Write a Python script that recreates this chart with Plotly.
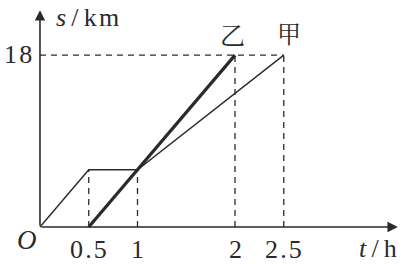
import plotly.graph_objects as go

# Data
jia_t = [0, 0.5, 1, 2.5]
jia_s = [0, 6, 6, 18]
yi_t = [0.5, 2]
yi_s = [0, 18]
x_ticks = [0.5, 1, 2, 2.5]
x_tick_labels = ["0\u200a.\u200a5", "1", "2", "2\u200a.\u200a5"]
y_ticks = [18]
y_tick_labels = ["1\u200a8"]
guide_lines = [  # (t0, s0, t1, s1)
    (0.5, 0, 0.5, 6),
    (1, 0, 1, 6),
    (2, 0, 2, 18),
    (2.5, 0, 2.5, 18),
    (0, 18, 2.5, 18),
]

INK = "#2a2a2a"
SERIF = "Liberation Serif"
CJK = "Noto Serif CJK SC, Noto Sans CJK SC"
W, H = 408, 264


def px(x):
    return x / W


def py(y):
    return 1 - y / H


fig = go.Figure()

for t0, s0, t1, s1 in guide_lines:
    fig.add_trace(go.Scatter(x=[t0, t1], y=[s0, s1], mode="lines",
                             line=dict(color=INK, width=1.3, dash="6px,5px"),
                             hoverinfo="skip", showlegend=False))

fig.add_trace(go.Scatter(x=jia_t, y=jia_s, mode="lines", name="甲",
                         line=dict(color=INK, width=1.4), showlegend=False))
fig.add_trace(go.Scatter(x=yi_t, y=yi_s, mode="lines", name="乙",
                         line=dict(color=INK, width=3.2), showlegend=False))

# axes with arrows
fig.add_annotation(x=3.67, y=0, ax=0, ay=0, xref="x", yref="y", axref="x", ayref="y",
                   text="", showarrow=True, arrowhead=2, arrowsize=1.3, arrowwidth=1.6,
                   arrowcolor=INK)
fig.add_annotation(x=0, y=22.7, ax=0, ay=0, xref="x", yref="y", axref="x", ayref="y",
                   text="", showarrow=True, arrowhead=2, arrowsize=1.3, arrowwidth=1.6,
                   arrowcolor=INK)

# tick labels
for t, lab in zip(x_ticks, x_tick_labels):
    fig.add_annotation(x=t, y=0, xref="x", yref="y", text=lab, showarrow=False,
                       yanchor="middle", yshift=-22, font=dict(family=SERIF, size=26, color=INK))
for s, lab in zip(y_ticks, y_tick_labels):
    fig.add_annotation(x=0, y=s, xref="x", yref="y", text=lab, showarrow=False,
                       xanchor="right", yanchor="middle", xshift=-6, yshift=1,
                       font=dict(family=SERIF, size=26, color=INK))

fig.add_annotation(x=px(27), y=py(240), xref="paper", yref="paper", text="<i>O</i>",
                   showarrow=False, xanchor="center", yanchor="middle",
                   font=dict(family=SERIF, size=27, color=INK))
fig.add_annotation(x=px(54), y=py(18), xref="paper", yref="paper",
                   text="<i>s</i>\u2009/\u2009k\u200am",
                   showarrow=False, xanchor="left", yanchor="middle",
                   font=dict(family=SERIF, size=26, color=INK))
fig.add_annotation(x=px(399), y=py(248), xref="paper", yref="paper",
                   text="<i>t</i>\u2009/\u2009h",
                   showarrow=False, xanchor="right", yanchor="middle",
                   font=dict(family=SERIF, size=26, color=INK))
fig.add_annotation(x=px(232), y=py(34), xref="paper", yref="paper", text="乙",
                   showarrow=False, xanchor="center", yanchor="middle",
                   font=dict(family=CJK, size=25, color=INK))
fig.add_annotation(x=px(289), y=py(32), xref="paper", yref="paper", text="甲",
                   showarrow=False, xanchor="center", yanchor="middle",
                   font=dict(family=CJK, size=24, color=INK))

fig.update_layout(
    width=W, height=H,
    margin=dict(l=0, r=0, t=0, b=0),
    paper_bgcolor="white", plot_bgcolor="white",
    xaxis=dict(range=[-0.41, 3.774], visible=False, fixedrange=True),
    yaxis=dict(range=[-3.87, 23.77], visible=False, fixedrange=True),
    showlegend=False,
)

fig.write_html("out.html")
